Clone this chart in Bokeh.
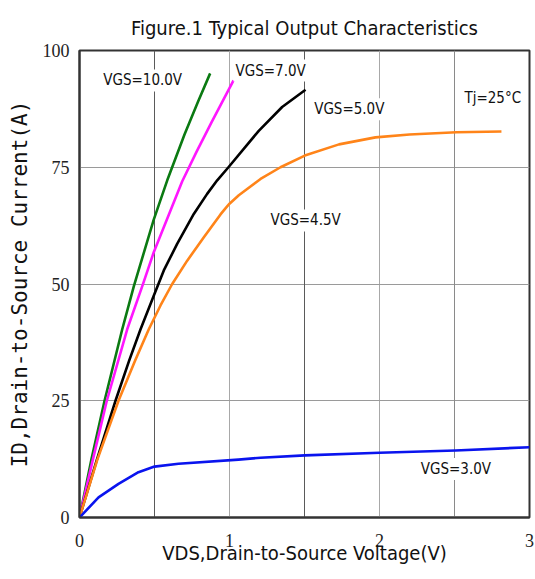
from bokeh.plotting import figure
from bokeh.models import Range1d, FixedTicker, Grid, Label
from bokeh.embed import file_html
from bokeh.resources import INLINE

# ---- data ----
vds_10 = [0, 0.08, 0.167, 0.285, 0.362, 0.495, 0.585, 0.7, 0.79, 0.871]
id_10 = [0, 12.5, 25, 40.3, 49.5, 63.8, 72.2, 82, 89, 95.1]

vds_7 = [0, 0.09, 0.182, 0.318, 0.418, 0.495, 0.6, 0.685, 0.78, 0.88, 1.027]
id_7 = [0, 12.5, 25, 40.3, 49.5, 56.8, 65.2, 72.0, 78.3, 84.6, 93.6]

vds_5 = [0, 0.115, 0.24, 0.331, 0.407, 0.495, 0.562, 0.651, 0.762, 0.851, 0.918, 0.993, 1.195, 1.351, 1.507]
id_5 = [0, 12.3, 25, 33.6, 40.3, 47.5, 52.9, 58.6, 65.0, 69.3, 72.2, 75, 82.8, 87.9, 91.6]

vds_45 = [0, 0.12, 0.26, 0.371, 0.462, 0.54, 0.618, 0.718, 0.829, 0.94, 0.973, 1.0, 1.062, 1.207, 1.34, 1.502, 1.73, 1.973, 2.2, 2.513, 2.813]
id_45 = [0, 12.5, 25, 33.6, 40.3, 45.4, 50, 55.0, 60.0, 64.9, 66.2, 67.2, 69.0, 72.5, 75.0, 77.5, 79.9, 81.4, 82.0, 82.5, 82.65]

vds_3 = [0, 0.127, 0.26, 0.393, 0.5, 0.66, 1.06, 1.207, 1.502, 2.0, 2.507, 3.0]
id_3 = [0, 4.3, 7.2, 9.7, 10.9, 11.5, 12.4, 12.8, 13.3, 13.85, 14.35, 15.05]

x_ticks = [0, 1, 2, 3]
y_ticks = [0, 25, 50, 75, 100]

series = [
    (vds_10, id_10, "#0b7a12"),
    (vds_7, id_7, "#ff16ff"),
    (vds_5, id_5, "#000000"),
    (vds_45, id_45, "#ff8419"),
    (vds_3, id_3, "#0a14ee"),
]

annotations = [
    (0.145, 93.6, "VGS=10.0V"),
    (1.027, 95.7, "VGS=7.0V"),
    (1.551, 87.4, "VGS=5.0V"),
    (1.26, 63.6, "VGS=4.5V"),
    (2.553, 89.9, "Tj=25\u00b0C"),
    (2.262, 10.4, "VGS=3.0V"),
]

NARROW = "DejaVu Sans Condensed"

p = figure(width=535, height=572, x_range=Range1d(0, 3), y_range=Range1d(0, 100),
           output_backend="svg", toolbar_location=None,
           min_border_left=79, min_border_right=6, min_border_top=50, min_border_bottom=55)

p.title.text = "Figure.1 Typical Output Characteristics"
p.title.align = "center"
p.title.text_font = NARROW
p.title.text_font_size = "20px"
p.title.text_font_style = "normal"
p.title.text_color = "#111111"
p.title.standoff = 22

p.outline_line_color = "#333333"
p.outline_line_width = 2

# axes
p.xaxis.ticker = FixedTicker(ticks=x_ticks)
p.yaxis.ticker = FixedTicker(ticks=y_ticks)
for ax in (p.xaxis[0], p.yaxis[0]):
    ax.major_tick_line_color = None
    ax.minor_tick_line_color = None
    ax.axis_line_color = "#333333"
    ax.axis_line_width = 2
    ax.major_label_text_font = "Liberation Serif"
    ax.major_label_text_font_size = "18px"
    ax.major_label_text_color = "#222222"
    ax.axis_label_text_font_style = "normal"
    ax.axis_label_text_color = "#111111"
p.xaxis.major_label_standoff = 10
p.yaxis.major_label_standoff = 4
p.xaxis.axis_label = "VDS,Drain-to-Source Voltage(V)"
p.xaxis.axis_label_text_font = NARROW
p.xaxis.axis_label_text_font_size = "20px"
p.xaxis.axis_label_standoff = -9
p.yaxis.axis_label = "ID,Drain-to-Source Current(A)"
p.yaxis.axis_label_text_font = "DejaVu Sans Mono"
p.yaxis.axis_label_text_font_size = "21px"
p.yaxis.axis_label_standoff = 8

# grids
p.xgrid.ticker = FixedTicker(ticks=[1, 2])
p.xgrid.grid_line_color = "#a8a8a8"
p.ygrid.ticker = FixedTicker(ticks=[25, 50, 75])
p.ygrid.grid_line_color = "#9a9a9a"
p.add_layout(Grid(dimension=0, ticker=FixedTicker(ticks=[0.5, 1.5]), grid_line_color="#5a5a5a"))
p.add_layout(Grid(dimension=0, ticker=FixedTicker(ticks=[2.5]), grid_line_color="#8a8a8a"))

for xs, ys, c in series:
    p.line(xs, ys, line_color=c, line_width=2.6, line_join="round")

for x, y, t in annotations:
    p.add_layout(Label(x=x, y=y, text=t, text_font=NARROW, text_font_size="15px",
                       text_baseline="middle", text_align="left", text_color="#111111",
                       background_fill_color="white", padding=2))

open("out.html", "w").write(file_html(p, INLINE))
